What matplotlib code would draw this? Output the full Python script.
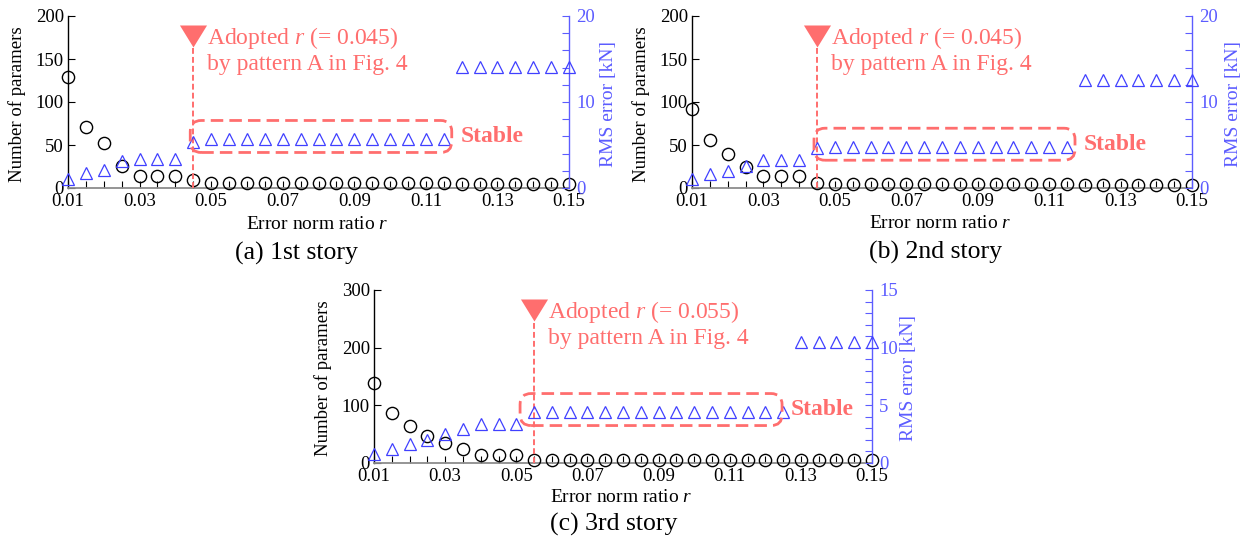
import numpy as np
import matplotlib
matplotlib.use("Agg")
import matplotlib.pyplot as plt
from matplotlib.patches import FancyBboxPatch
from matplotlib.transforms import IdentityTransform, blended_transform_factory
from matplotlib.ticker import MultipleLocator, FixedLocator

plt.rcParams['font.family'] = ['Liberation Serif', 'DejaVu Serif']
plt.rcParams['mathtext.fontset'] = 'custom'
plt.rcParams['mathtext.rm'] = 'Liberation Serif'
plt.rcParams['mathtext.it'] = 'Liberation Serif:italic'

# ---------------- data ----------------
r_values = [0.010, 0.015, 0.020, 0.025, 0.030, 0.035, 0.040, 0.045, 0.050, 0.055,
            0.060, 0.065, 0.070, 0.075, 0.080, 0.085, 0.090, 0.095, 0.100, 0.105,
            0.110, 0.115, 0.120, 0.125, 0.130, 0.135, 0.140, 0.145, 0.150]

params_a = [129, 71, 52, 26, 14, 14, 14, 9, 6, 6,
            6, 6, 6, 6, 6, 6, 6, 6, 6, 6,
            6, 6, 5, 5, 5, 5, 5, 5, 5]
rms_a = [1.1, 1.7, 2.1, 3.1, 3.4, 3.4, 3.4, 5.3, 5.7, 5.7,
         5.7, 5.7, 5.7, 5.7, 5.7, 5.7, 5.7, 5.7, 5.7, 5.7,
         5.7, 5.7, 14.1, 14.1, 14.1, 14.1, 14.1, 14.1, 14.1]

params_b = [92, 56, 40, 25, 14, 14, 14, 6, 5, 5,
            5, 5, 5, 5, 5, 5, 5, 5, 5, 5,
            5, 5, 4, 4, 4, 4, 4, 4, 4]
rms_b = [1.0, 1.6, 2.0, 2.6, 3.2, 3.2, 3.2, 4.6, 4.8, 4.8,
         4.8, 4.8, 4.8, 4.8, 4.8, 4.8, 4.8, 4.8, 4.8, 4.8,
         4.8, 4.8, 12.6, 12.6, 12.6, 12.6, 12.6, 12.6, 12.6]

params_c = [138, 87, 63, 46, 34, 23, 13, 13, 13, 5,
            5, 5, 5, 5, 5, 5, 5, 5, 5, 5,
            5, 5, 5, 5, 5, 5, 5, 5, 5]
rms_c = [0.73, 1.16, 1.6, 2.0, 2.5, 2.9, 3.4, 3.4, 3.4, 4.4,
         4.4, 4.4, 4.4, 4.4, 4.4, 4.4, 4.4, 4.4, 4.4, 4.4,
         4.4, 4.4, 4.4, 4.4, 10.5, 10.5, 10.5, 10.5, 10.5]

adopted_r = [0.045, 0.045, 0.055]
stable_first = [0.045, 0.045, 0.055]
stable_last = [0.115, 0.115, 0.125]
captions = ["(a) 1st story", "(b) 2nd story", "(c) 3rd story"]
x_ticks = [0.01, 0.03, 0.05, 0.07, 0.09, 0.11, 0.13, 0.15]
x_ticklabels = ["0.01", "0.03", "0.05", "0.07", "0.09", "0.11", "0.13", "0.15"]

# ---------------- style ----------------
RED = '#FF6E6E'
BLUE = '#4040FF'
AXBLUE = '#5C5CFF'
W, H, DPI = 12.47, 5.40, 100

fig = plt.figure(figsize=(W, H), dpi=DPI)

panels = [
    dict(rect=[68/1247, 1-188/540, 501/1247, 172/540], params=params_a, rms=rms_a,
         ylim=200, ystep=50, y2lim=20, y2major=10, y2minor=2, cap_x=0.455,
         xl_y=-0.215, cap_y=-0.380, y2lab=1.062, box_l=-3, box_r=8),
    dict(rect=[692/1247, 1-188/540, 500/1247, 172/540], params=params_b, rms=rms_b,
         ylim=200, ystep=50, y2lim=20, y2major=10, y2minor=2, cap_x=0.486,
         xl_y=-0.209, cap_y=-0.372, y2lab=1.066, box_l=-3, box_r=8),
    dict(rect=[374/1247, 1-462.7/540, 498/1247, 172.7/540], params=params_c, rms=rms_c,
         ylim=300, ystep=100, y2lim=15, y2major=5, y2minor=1, cap_x=0.482,
         xl_y=-0.204, cap_y=-0.360, y2lab=1.056, box_l=-14, box_r=-1),
]

tri_verts = [(-1.23, 1.0), (1.23, 1.0), (0.0, -1.0), (-1.23, 1.0)]

for i, p in enumerate(panels):
    ax = fig.add_axes(p['rect'])
    ax2 = ax.twinx()

    ax.plot(r_values, p['params'], linestyle='none', marker='o', ms=8.8,
            mfc='none', mec='black', mew=1.0, clip_on=False, zorder=3)
    ax2.plot(r_values, p['rms'], linestyle='none', marker='^', ms=9.2,
             mfc='none', mec=BLUE, mew=0.9, clip_on=False, zorder=3)

    ax.set_xlim(0.01, 0.15)
    ax.set_ylim(0, p['ylim'])
    ax2.set_ylim(0, p['y2lim'])

    ax.xaxis.set_major_locator(FixedLocator(x_ticks))
    ax.set_xticklabels(x_ticklabels)
    ax.xaxis.set_minor_locator(MultipleLocator(0.005))
    ax.yaxis.set_major_locator(MultipleLocator(p['ystep']))
    ax2.yaxis.set_major_locator(MultipleLocator(p['y2major']))
    ax2.yaxis.set_minor_locator(MultipleLocator(p['y2minor']))

    for s in ['top', 'right']:
        ax.spines[s].set_visible(False)
    for s in ['top', 'left', 'bottom']:
        ax2.spines[s].set_visible(False)
    ax.spines['bottom'].set_color('#8C8C8C')
    ax.spines['bottom'].set_linewidth(1.3)
    ax.spines['left'].set_linewidth(1.0)
    ax2.spines['right'].set_color(AXBLUE)
    ax2.spines['right'].set_linewidth(1.0)

    ax.tick_params(axis='both', which='both', direction='in', length=5, width=0.8,
                   labelsize=13.5, pad=3)
    ax.tick_params(axis='x', pad=3.5)
    ax2.tick_params(axis='y', which='both', direction='in', length=5, width=0.8,
                    color=AXBLUE, labelcolor=AXBLUE, labelsize=13.5, pad=5)

    ax.set_ylabel("Number of paramers", fontsize=13.5)
    ax.yaxis.set_label_coords(-0.084, 0.49)
    ax2.set_ylabel("RMS error [kN]", fontsize=14, color=AXBLUE, rotation=90)
    ax2.yaxis.set_label_coords(p['y2lab'], 0.49)

    ax.text(0.497, p['xl_y'], "Error norm ratio $r$", transform=ax.transAxes,
            ha='center', va='center', fontsize=14)
    ax.text(p['cap_x'], p['cap_y'], captions[i], transform=ax.transAxes,
            ha='center', va='center', fontsize=18.5)

    # adopted marker
    bt = blended_transform_factory(ax.transData, ax.transAxes)
    r0 = adopted_r[i]
    ax.plot([r0], [0.882], transform=bt, marker=tri_verts, ms=19.5, color=RED,
            mec='none', linestyle='none', clip_on=False, zorder=5)
    ax.plot([r0, r0], [0.0, 0.815], transform=bt, color=RED, lw=1.4,
            dashes=(3, 1.6), clip_on=False, zorder=4)
    ax.annotate("Adopted $r$ (= %.3f)" % r0, xy=(r0, 0.882), xycoords=bt,
                xytext=(10, -1.2), textcoords='offset points', ha='left', va='center',
                fontsize=17, color=RED)
    ax.annotate("by pattern A in Fig. 4", xy=(r0, 0.882), xycoords=bt,
                xytext=(10, -20), textcoords='offset points', ha='left', va='center',
                fontsize=17, color=RED)

    # stable box (in pixel space)
    idx0 = r_values.index(stable_first[i])
    stable_level = p['rms'][idx0 + 1]
    x0 = ax2.transData.transform((stable_first[i], stable_level))[0] + p['box_l']
    x1, yc = ax2.transData.transform((stable_last[i], stable_level))
    x1 = x1 + p['box_r']
    yc = yc + 2.5
    hh = 16
    box = FancyBboxPatch((x0, yc - hh), x1 - x0, 2 * hh,
                         boxstyle="round,pad=0,rounding_size=11",
                         transform=IdentityTransform(), fill=False,
                         edgecolor=RED, lw=2.0, linestyle=(0, (4.5, 2.2)), zorder=6)
    fig.add_artist(box)
    fig.text(x1 + 9, yc, "Stable", transform=IdentityTransform(), ha='left',
             va='center', fontsize=17, fontweight='bold', color=RED)

fig.savefig("out.png", dpi=DPI)
